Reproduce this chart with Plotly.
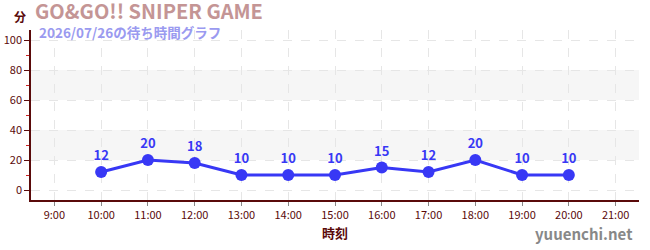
import plotly.graph_objects as go

hours = [10, 11, 12, 13, 14, 15, 16, 17, 18, 19, 20]
waits = [12, 20, 18, 10, 10, 10, 15, 12, 20, 10, 10]
tick_vals = [9, 10, 11, 12, 13, 14, 15, 16, 17, 18, 19, 20, 21]
tick_text = [f"{h}:00" for h in tick_vals]
title = "GO&GO!! SNIPER GAME"
subtitle = "2026/07/26の待ち時間グラフ"

FONT = "Noto Sans CJK JP"
DARK = "#5a0a0a"

fig = go.Figure()
fig.add_trace(go.Scatter(
    x=hours, y=waits, mode="lines+markers+text",
    line=dict(color="#3838f5", width=3),
    marker=dict(color="#3838f5", size=12),
    text=[str(v) for v in waits], textposition="top center",
    textfont=dict(family=FONT, size=13, color="#3838f5", weight="bold"),
    cliponaxis=False, hoverinfo="skip",
))

for lo, hi in [(20, 40), (60, 80)]:
    fig.add_shape(type="rect", xref="paper", yref="y", x0=0, x1=1, y0=lo, y1=hi,
                  fillcolor="#f6f6f6", line_width=0, layer="below")

fig.update_layout(
    width=650, height=250,
    margin=dict(l=31, r=11, t=30, b=50, autoexpand=False),
    plot_bgcolor="white", paper_bgcolor="white",
    showlegend=False,
    font=dict(family=FONT, color=DARK),
    xaxis=dict(
        range=[8.5, 21.5], tickvals=tick_vals, ticktext=tick_text, automargin=False,
        showgrid=True, gridcolor="#e6e6e6", griddash="dash", gridwidth=1,
        showline=True, linecolor=DARK, linewidth=1.5,
        ticks="outside", ticklen=4, tickcolor="#888888",
        tickfont=dict(size=11, color=DARK), zeroline=False,
        title=dict(text="<b>時刻</b>", font=dict(size=13, color=DARK), standoff=8),
    ),
    yaxis=dict(
        range=[-6.67, 106.7], tickvals=[0, 20, 40, 60, 80, 100], automargin=False,
        showgrid=True, gridcolor="#e6e6e6", griddash="dash", gridwidth=1,
        showline=True, linecolor=DARK, linewidth=1.5,
        ticks="outside", ticklen=5, tickcolor=DARK,
        tickfont=dict(size=11, color=DARK), zeroline=False,
        minor=dict(tickvals=[10, 30, 50, 70, 90], ticks="outside", ticklen=3,
                   tickcolor="#cc2222", showgrid=False),
    ),
    annotations=[
        dict(text=f"<b>{title}</b>", xref="paper", yref="paper", x=0.004, y=1.0,
             xanchor="left", yanchor="middle", yshift=20, showarrow=False,
             font=dict(family=FONT, size=20, color="#c49595")),
        dict(text=f"<b>{subtitle}</b>", xref="paper", yref="paper", x=0.01, y=1.0,
             xanchor="left", yanchor="middle", yshift=-2, showarrow=False,
             font=dict(family=FONT, size=13.5, color="#9a9af0")),
        dict(text="<b>分</b>", xref="paper", yref="paper", x=-0.018, y=1.0,
             xanchor="center", yanchor="middle", yshift=14, showarrow=False,
             font=dict(family=FONT, size=12, color=DARK)),
        dict(text="<b>yuuenchi.net</b>", xref="paper", yref="paper", x=1.0, y=0, xanchor="right",
             yanchor="middle", yshift=-33, xshift=-4, showarrow=False,
             font=dict(family=FONT, size=15, color="#888888")),
    ],
)
fig.add_shape(type="line", xref="paper", yref="paper", x0=-0.06, x1=1.03, y0=1.29, y1=1.29,
              line=dict(color="#dde0f5", width=1))

fig.write_html("out.html")
